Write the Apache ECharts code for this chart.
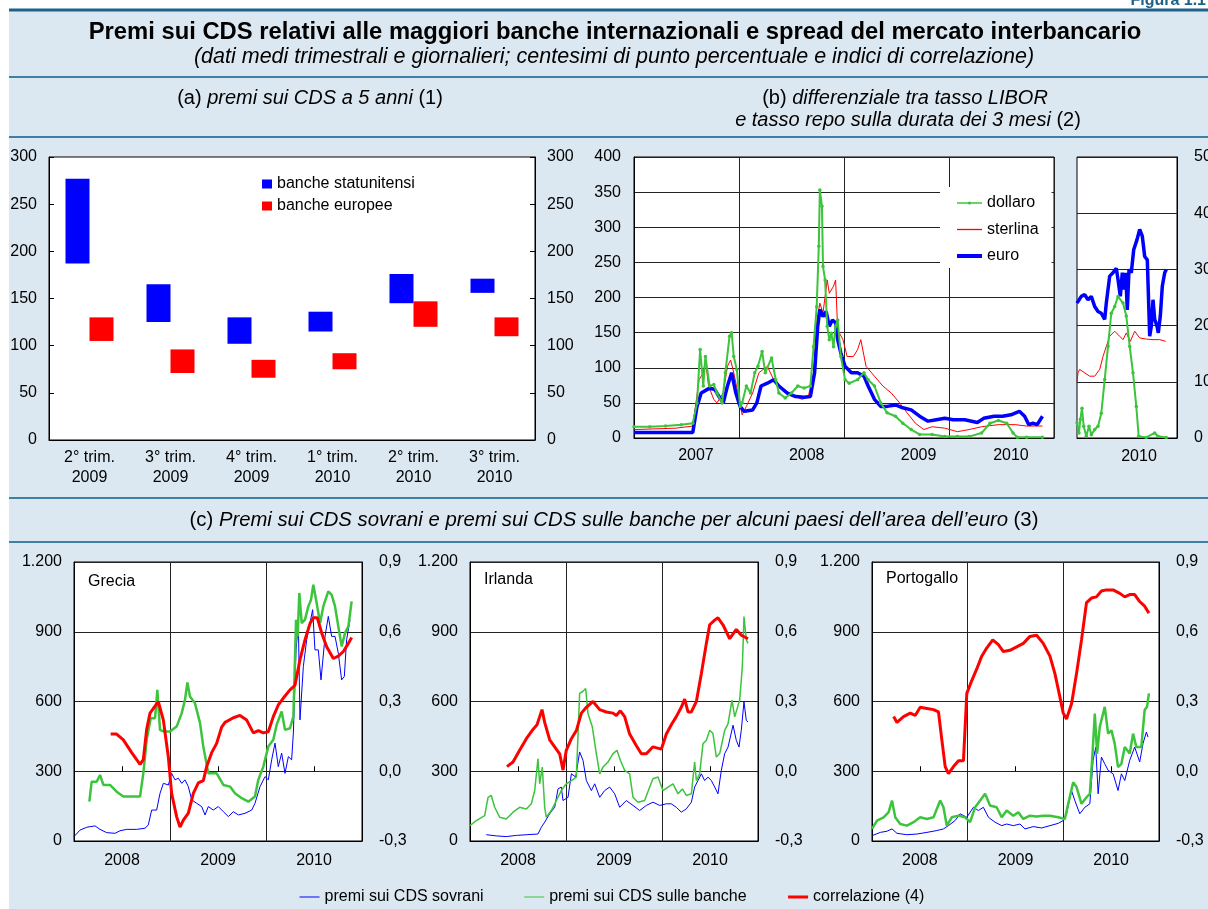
<!DOCTYPE html>
<html>
<head>
<meta charset="utf-8">
<script src="https://cdn.jsdelivr.net/npm/echarts@6/dist/echarts.min.js"></script>
<style>
html, body { margin: 0; padding: 0; background: #fff; }
#chart { width: 1208px; height: 909px; }
</style>
</head>
<body>
<div id="chart"></div>
<script>
// (a) premi sui CDS a 5 anni: intervallo min-max per trimestre
const trimestri = ['2° trim.\n2009', '3° trim.\n2009', '4° trim.\n2009', '1° trim.\n2010', '2° trim.\n2010', '3° trim.\n2010'];
const usaMin = [187, 125, 102, 115, 145, 156];
const usaMax = [277, 165, 130, 136, 176, 171];
const eurMin = [105, 71, 66, 75, 120, 110];
const eurMax = [130, 96, 85, 92, 147, 130];

// (b) differenziale LIBOR-repo, anni in frazione
const liborDollaro = [[2007.00,16],[2007.15,16],[2007.30,17],[2007.45,19],[2007.56,21],[2007.60,50],[2007.63,126],[2007.66,74],[2007.68,116],[2007.72,74],[2007.76,76],[2007.79,64],[2007.84,50],[2007.87,93],[2007.91,145],[2007.93,150],[2007.95,116],[2007.98,97],[2008.01,45],[2008.03,50],[2008.07,74],[2008.11,64],[2008.15,93],[2008.18,102],[2008.22,123],[2008.25,93],[2008.31,114],[2008.35,83],[2008.38,64],[2008.44,57],[2008.50,64],[2008.56,74],[2008.62,71],[2008.68,74],[2008.71,130],[2008.74,187],[2008.76,273],[2008.77,353],[2008.79,330],[2008.80,244],[2008.82,225],[2008.84,159],[2008.86,140],[2008.88,149],[2008.90,130],[2008.92,159],[2008.94,168],[2008.97,116],[2009.01,83],[2009.05,78],[2009.13,83],[2009.19,93],[2009.23,83],[2009.29,74],[2009.35,50],[2009.41,36],[2009.49,31],[2009.56,21],[2009.64,12],[2009.72,5],[2009.84,5],[2009.96,2],[2010.08,2],[2010.19,2],[2010.31,7],[2010.39,21],[2010.47,25],[2010.55,21],[2010.61,7],[2010.65,1],[2010.74,1],[2010.89,1]];
const liborSterlina = [[2007.00,12],[2007.20,13],[2007.40,14],[2007.56,17],[2007.62,83],[2007.66,93],[2007.68,111],[2007.71,74],[2007.76,55],[2007.79,50],[2007.85,64],[2007.89,102],[2007.92,111],[2007.95,93],[2007.99,64],[2008.03,33],[2008.07,45],[2008.13,64],[2008.19,93],[2008.27,102],[2008.33,83],[2008.38,74],[2008.46,66],[2008.54,59],[2008.60,55],[2008.66,59],[2008.71,93],[2008.74,164],[2008.77,192],[2008.80,178],[2008.84,225],[2008.86,206],[2008.90,216],[2008.92,225],[2008.94,154],[2008.99,140],[2009.03,116],[2009.09,116],[2009.13,126],[2009.16,140],[2009.21,102],[2009.29,88],[2009.37,74],[2009.45,64],[2009.53,50],[2009.60,36],[2009.68,21],[2009.76,12],[2009.84,16],[2009.96,14],[2010.08,9],[2010.19,12],[2010.31,16],[2010.47,19],[2010.63,19],[2010.74,17],[2010.89,17]];
const liborEuro = [[2007.00,8],[2007.30,8],[2007.56,8],[2007.60,45],[2007.64,64],[2007.72,71],[2007.77,69],[2007.81,59],[2007.85,50],[2007.89,74],[2007.93,93],[2007.97,64],[2008.01,45],[2008.05,38],[2008.13,40],[2008.17,50],[2008.21,74],[2008.27,78],[2008.33,83],[2008.38,74],[2008.46,64],[2008.54,59],[2008.62,58],[2008.68,59],[2008.72,93],[2008.75,159],[2008.77,183],[2008.80,173],[2008.83,180],[2008.86,159],[2008.89,168],[2008.92,164],[2008.94,140],[2008.97,121],[2009.01,102],[2009.07,93],[2009.13,93],[2009.19,88],[2009.23,74],[2009.29,55],[2009.35,45],[2009.41,45],[2009.49,47],[2009.56,43],[2009.64,40],[2009.72,31],[2009.80,24],[2009.88,26],[2009.96,28],[2010.04,26],[2010.15,26],[2010.27,22],[2010.33,28],[2010.43,31],[2010.51,31],[2010.59,33],[2010.67,38],[2010.72,31],[2010.76,19],[2010.80,21],[2010.84,19],[2010.89,31]];

// (b) riquadro 2010
const dettDollaro = [[2010.000,27],[2010.020,9],[2010.033,33],[2010.050,53],[2010.067,21],[2010.093,3],[2010.120,21],[2010.143,6],[2010.177,15],[2010.210,21],[2010.243,44],[2010.277,104],[2010.310,163],[2010.343,222],[2010.377,234],[2010.410,252],[2010.460,240],[2010.493,217],[2010.527,163],[2010.560,116],[2010.593,56],[2010.617,3],[2010.693,1],[2010.777,9],[2010.810,3],[2010.893,1]];
const dettSterlina = [[2010.000,100],[2010.010,116],[2010.027,122],[2010.077,116],[2010.127,110],[2010.177,110],[2010.227,122],[2010.260,145],[2010.293,163],[2010.327,181],[2010.377,190],[2010.427,181],[2010.460,175],[2010.493,187],[2010.533,172],[2010.577,190],[2010.627,178],[2010.693,176],[2010.760,175],[2010.827,175],[2010.887,172]];
const dettEuro = [[2010.000,240],[2010.043,252],[2010.077,255],[2010.110,246],[2010.143,252],[2010.177,234],[2010.210,225],[2010.243,222],[2010.277,211],[2010.293,240],[2010.327,288],[2010.360,294],[2010.393,302],[2010.410,282],[2010.433,252],[2010.453,294],[2010.470,264],[2010.487,294],[2010.503,228],[2010.520,300],[2010.543,294],[2010.567,335],[2010.600,353],[2010.627,371],[2010.653,359],[2010.677,323],[2010.703,317],[2010.727,181],[2010.743,199],[2010.760,246],[2010.777,211],[2010.800,199],[2010.813,187],[2010.833,217],[2010.853,270],[2010.877,294],[2010.893,300]];

// (c) Grecia
const grSovrani = [[2008.000,19],[2008.063,47],[2008.132,59],[2008.219,65],[2008.271,50],[2008.340,36],[2008.427,33],[2008.479,44],[2008.549,50],[2008.653,50],[2008.740,55],[2008.774,69],[2008.809,133],[2008.861,133],[2008.896,205],[2008.931,248],[2008.983,241],[2009.017,291],[2009.052,263],[2009.087,270],[2009.122,248],[2009.156,263],[2009.191,234],[2009.226,177],[2009.278,162],[2009.330,148],[2009.365,112],[2009.399,148],[2009.451,133],[2009.503,148],[2009.556,126],[2009.608,105],[2009.660,126],[2009.712,112],[2009.781,119],[2009.851,133],[2009.885,162],[2009.938,234],[2009.990,277],[2010.024,263],[2010.059,349],[2010.094,421],[2010.128,320],[2010.163,378],[2010.198,291],[2010.233,363],[2010.267,349],[2010.285,464],[2010.313,822],[2010.337,937],[2010.354,521],[2010.389,751],[2010.424,866],[2010.458,937],[2010.486,995],[2010.510,822],[2010.545,822],[2010.573,693],[2010.615,880],[2010.649,966],[2010.684,880],[2010.719,880],[2010.753,808],[2010.788,693],[2010.816,708],[2010.840,866],[2010.875,952]];
const grBanche = [[2008.160,169],[2008.184,255],[2008.236,255],[2008.271,284],[2008.306,241],[2008.375,241],[2008.444,212],[2008.514,191],[2008.601,191],[2008.688,191],[2008.722,291],[2008.757,435],[2008.799,528],[2008.844,528],[2008.868,650],[2008.896,478],[2008.931,471],[2009.000,471],[2009.069,492],[2009.122,550],[2009.156,607],[2009.181,682],[2009.208,622],[2009.260,593],[2009.313,507],[2009.347,406],[2009.399,291],[2009.486,291],[2009.556,241],[2009.625,234],[2009.677,205],[2009.747,184],[2009.816,169],[2009.885,191],[2009.920,263],[2009.972,320],[2010.024,406],[2010.076,435],[2010.111,500],[2010.163,557],[2010.198,478],[2010.250,485],[2010.285,535],[2010.313,952],[2010.330,880],[2010.347,1067],[2010.372,937],[2010.406,952],[2010.441,1009],[2010.469,1038],[2010.493,1102],[2010.528,1023],[2010.563,937],[2010.597,1009],[2010.649,1074],[2010.684,1059],[2010.719,1009],[2010.753,923],[2010.788,837],[2010.823,894],[2010.858,923],[2010.892,1031]];
const grCorrelazione = [[2008.382,0.16],[2008.444,0.16],[2008.514,0.135],[2008.601,0.08],[2008.688,0.03],[2008.722,0.05],[2008.757,0.18],[2008.792,0.25],[2008.844,0.28],[2008.878,0.30],[2008.931,0.22],[2008.983,0.06],[2009.017,-0.095],[2009.069,-0.195],[2009.104,-0.24],[2009.139,-0.21],[2009.191,-0.18],[2009.243,-0.095],[2009.295,-0.05],[2009.347,-0.04],[2009.382,0.02],[2009.434,0.08],[2009.486,0.12],[2009.538,0.19],[2009.573,0.21],[2009.660,0.23],[2009.729,0.24],[2009.799,0.22],[2009.868,0.165],[2009.920,0.175],[2009.972,0.165],[2010.024,0.17],[2010.076,0.235],[2010.128,0.285],[2010.181,0.315],[2010.250,0.35],[2010.302,0.37],[2010.354,0.48],[2010.406,0.565],[2010.458,0.635],[2010.493,0.66],[2010.535,0.66],[2010.580,0.595],[2010.632,0.535],[2010.701,0.485],[2010.753,0.495],[2010.806,0.515],[2010.858,0.55],[2010.892,0.575]];

// (c) Irlanda
const ieSovrani = [[2008.170,27],[2008.274,22],[2008.378,19],[2008.483,24],[2008.587,27],[2008.708,30],[2008.743,59],[2008.778,81],[2008.830,117],[2008.882,145],[2008.917,224],[2008.951,232],[2008.969,174],[2009.021,188],[2009.056,289],[2009.101,275],[2009.142,383],[2009.177,347],[2009.212,260],[2009.264,217],[2009.299,246],[2009.351,188],[2009.403,217],[2009.455,232],[2009.507,203],[2009.559,145],[2009.628,174],[2009.698,153],[2009.767,131],[2009.837,153],[2009.906,167],[2009.976,153],[2010.045,160],[2010.097,160],[2010.149,145],[2010.201,124],[2010.253,138],[2010.306,167],[2010.340,232],[2010.375,260],[2010.410,289],[2010.444,260],[2010.479,275],[2010.514,260],[2010.549,232],[2010.583,203],[2010.618,304],[2010.653,376],[2010.688,404],[2010.740,498],[2010.774,433],[2010.802,404],[2010.826,476],[2010.854,599],[2010.878,519],[2010.896,512]];
const ieBanche = [[2008.000,66],[2008.066,88],[2008.153,109],[2008.188,188],[2008.222,196],[2008.257,145],[2008.309,102],[2008.378,95],[2008.448,124],[2008.517,145],[2008.587,138],[2008.639,160],[2008.674,217],[2008.708,354],[2008.726,246],[2008.753,318],[2008.778,145],[2008.795,102],[2008.847,131],[2008.899,174],[2008.951,217],[2009.003,246],[2009.056,260],[2009.108,275],[2009.142,635],[2009.170,642],[2009.205,656],[2009.229,548],[2009.274,491],[2009.316,376],[2009.351,289],[2009.385,318],[2009.438,340],[2009.490,376],[2009.531,390],[2009.566,347],[2009.611,304],[2009.663,289],[2009.698,188],[2009.750,167],[2009.819,174],[2009.872,232],[2009.906,268],[2009.958,275],[2010.010,217],[2010.063,232],[2010.115,246],[2010.167,203],[2010.212,224],[2010.253,196],[2010.306,203],[2010.340,340],[2010.358,260],[2010.392,289],[2010.427,418],[2010.462,433],[2010.497,476],[2010.531,462],[2010.566,361],[2010.601,376],[2010.653,476],[2010.688,505],[2010.729,606],[2010.757,534],[2010.809,606],[2010.837,750],[2010.854,965],[2010.878,865],[2010.896,850]];
const ieCorrelazione = [[2008.385,0.02],[2008.448,0.04],[2008.517,0.09],[2008.587,0.14],[2008.656,0.18],[2008.698,0.20],[2008.726,0.235],[2008.750,0.265],[2008.778,0.21],[2008.830,0.135],[2008.882,0.105],[2008.934,0.075],[2008.969,0.005],[2009.003,0.09],[2009.056,0.14],[2009.108,0.175],[2009.160,0.25],[2009.212,0.275],[2009.281,0.30],[2009.351,0.265],[2009.420,0.255],[2009.490,0.25],[2009.524,0.24],[2009.566,0.26],[2009.611,0.235],[2009.663,0.16],[2009.733,0.11],[2009.785,0.075],[2009.837,0.075],[2009.906,0.105],[2009.993,0.095],[2010.045,0.16],[2010.097,0.20],[2010.149,0.235],[2010.201,0.275],[2010.236,0.31],[2010.271,0.255],[2010.306,0.255],[2010.358,0.30],[2010.410,0.42],[2010.462,0.55],[2010.497,0.63],[2010.549,0.65],[2010.583,0.66],[2010.635,0.63],[2010.705,0.57],[2010.774,0.61],[2010.826,0.585],[2010.896,0.57]];

// (c) Portogallo
const ptSovrani = [[2008.000,23],[2008.087,37],[2008.156,42],[2008.209,52],[2008.261,33],[2008.365,27],[2008.469,30],[2008.574,37],[2008.678,45],[2008.747,52],[2008.799,66],[2008.869,88],[2008.921,117],[2008.991,102],[2009.060,145],[2009.112,131],[2009.164,145],[2009.217,102],[2009.286,81],[2009.356,66],[2009.408,73],[2009.477,66],[2009.547,73],[2009.599,52],[2009.686,62],[2009.773,56],[2009.860,66],[2009.947,76],[2010.000,88],[2010.034,117],[2010.085,217],[2010.120,174],[2010.172,117],[2010.225,145],[2010.277,160],[2010.311,347],[2010.339,404],[2010.364,203],[2010.398,361],[2010.433,332],[2010.468,304],[2010.520,289],[2010.572,217],[2010.607,289],[2010.642,260],[2010.694,347],[2010.746,404],[2010.798,340],[2010.833,419],[2010.868,469],[2010.885,447]];
const ptBanche = [[2008.000,52],[2008.052,88],[2008.122,102],[2008.174,124],[2008.209,174],[2008.243,102],[2008.295,73],[2008.365,66],[2008.434,81],[2008.504,102],[2008.574,95],[2008.643,102],[2008.713,174],[2008.747,145],[2008.782,66],[2008.834,102],[2008.904,109],[2008.973,102],[2009.025,81],[2009.078,145],[2009.130,174],[2009.182,203],[2009.234,153],[2009.303,145],[2009.356,102],[2009.408,131],[2009.477,109],[2009.529,124],[2009.582,95],[2009.651,109],[2009.721,105],[2009.790,109],[2009.860,109],[2009.946,102],[2010.016,95],[2010.051,160],[2010.103,253],[2010.138,232],[2010.190,160],[2010.242,188],[2010.277,203],[2010.305,376],[2010.329,548],[2010.353,376],[2010.381,491],[2010.433,577],[2010.468,462],[2010.503,476],[2010.537,419],[2010.572,318],[2010.607,332],[2010.642,404],[2010.694,376],[2010.729,462],[2010.763,404],[2010.815,404],[2010.850,563],[2010.875,577],[2010.895,635]];
const ptCorrelazione = [[2008.226,0.235],[2008.261,0.21],[2008.330,0.235],[2008.400,0.25],[2008.452,0.24],[2008.504,0.275],[2008.574,0.27],[2008.643,0.265],[2008.695,0.255],[2008.730,0.135],[2008.765,0.02],[2008.799,-0.01],[2008.852,0.02],[2008.904,0.045],[2008.956,0.045],[2008.991,0.335],[2009.043,0.39],[2009.095,0.44],[2009.147,0.495],[2009.199,0.53],[2009.262,0.565],[2009.321,0.545],[2009.373,0.515],[2009.442,0.52],[2009.512,0.535],[2009.582,0.55],[2009.651,0.58],[2009.721,0.585],[2009.790,0.55],[2009.860,0.495],[2009.912,0.42],[2009.964,0.32],[2009.999,0.25],[2010.033,0.225],[2010.086,0.29],[2010.138,0.42],[2010.190,0.565],[2010.242,0.725],[2010.294,0.745],[2010.346,0.75],[2010.398,0.775],[2010.450,0.78],[2010.520,0.78],[2010.590,0.765],[2010.642,0.75],[2010.694,0.76],[2010.746,0.76],[2010.798,0.73],[2010.850,0.71],[2010.895,0.68]];

const etichetteAnniB = [2007.59, 2008.645, 2009.71, 2010.59];
const etichettaRiquadro = [2010.62];
const etichetteAnniC = [2008.5, 2009.5, 2010.5];

const FONT = "'Liberation Sans', Arial, Helvetica, sans-serif";
const BLU = '#0000ff', ROSSO = '#ff0000', VERDE = '#3cc43c';
const FONDO = '#dce8f1', FILETTO = '#3f7fa5';
const lbl = { color: '#000', fontSize: 16, fontFamily: FONT };
const nero = { lineStyle: { color: '#000', width: 1 } };
const griglia = { show: true, lineStyle: { color: '#222', width: 1 } };

function migliaia(v) { return String(v).replace(/\B(?=(\d{3})+(?!\d))/g, '.'); }
function virgola(v) { return (Math.round(v * 10) / 10).toFixed(1).replace('.', ','); }
function anno(v) { return String(Math.floor(v)); }

function boxGrid(left, top, width, height) {
    return { left: left, top: top, width: width, height: height, show: true,
             backgroundColor: '#fff', borderColor: '#000', borderWidth: 1,
             containLabel: false, outerBoundsMode: 'none' };
}

const chart = echarts.init(document.getElementById('chart'));

let grids = [
    boxGrid(49, 157, 486, 283),
    boxGrid(634, 157, 420, 281),
    boxGrid(1077, 157, 100, 281)
];
let xAxes = [
    { gridIndex: 0, type: 'category', data: trimestri, axisLine: nero,
      axisTick: { inside: true, length: 5, lineStyle: { color: '#000' } },
      axisLabel: Object.assign({}, lbl, { margin: 8, lineHeight: 20, interval: 0 }) },
    { gridIndex: 1, type: 'value', min: 2007, max: 2011, interval: 1, axisLine: nero,
      axisTick: { show: false }, splitLine: griglia,
      axisLabel: Object.assign({}, lbl, { margin: 10, customValues: etichetteAnniB, formatter: anno }) },
    { gridIndex: 2, type: 'value', min: 2010, max: 2011, axisLine: nero,
      axisTick: { show: false }, splitLine: { show: false },
      axisLabel: Object.assign({}, lbl, { margin: 11, customValues: etichettaRiquadro, formatter: anno }) }
];
let yAxes = [
    { gridIndex: 0, type: 'value', min: 0, max: 300, interval: 50, axisLine: Object.assign({ show: true }, nero),
      axisTick: { show: true, inside: true, length: 5, lineStyle: { color: '#000' } }, splitLine: { show: false },
      axisLabel: Object.assign({}, lbl, { margin: 12 }) },
    { gridIndex: 0, type: 'value', position: 'right', min: 0, max: 300, interval: 50, axisLine: Object.assign({ show: true }, nero),
      axisTick: { show: true, inside: true, length: 5, lineStyle: { color: '#000' } }, splitLine: { show: false },
      axisLabel: Object.assign({}, lbl, { margin: 12 }) },
    { gridIndex: 1, type: 'value', min: 0, max: 400, interval: 50, axisLine: Object.assign({ show: true }, nero),
      axisTick: { show: false }, splitLine: griglia,
      axisLabel: Object.assign({}, lbl, { margin: 13 }) },
    { gridIndex: 2, type: 'value', position: 'right', min: 0, max: 500, interval: 100, axisLine: Object.assign({ show: true }, nero),
      axisTick: { show: false }, splitLine: griglia,
      axisLabel: Object.assign({}, lbl, { margin: 17 }) }
];

function rangeBars(name, stack, low, high, color) {
    return [
        { type: 'bar', name: stack + '-base', stack: stack, xAxisIndex: 0, yAxisIndex: 0,
          data: low, itemStyle: { color: 'transparent' }, barWidth: 24, barGap: '0%', silent: true },
        { type: 'bar', name: name, stack: stack, xAxisIndex: 0, yAxisIndex: 0,
          data: high.map((h, i) => h - low[i]), itemStyle: { color: color }, barWidth: 24, barGap: '0%' }
    ];
}

function linea(name, data, xi, yi, color, width, extra) {
    return Object.assign({ type: 'line', name: name, data: data, xAxisIndex: xi, yAxisIndex: yi,
        symbol: 'none', showSymbol: false, lineStyle: { color: color, width: width },
        itemStyle: { color: color }, emphasis: { disabled: true } }, extra || {});
}

const puntini = { symbol: 'circle', symbolSize: 3.5, showSymbol: true };

let series = [].concat(
    rangeBars('banche statunitensi', 'usa', usaMin, usaMax, BLU),
    rangeBars('banche europee', 'eur', eurMin, eurMax, ROSSO),
    [
        linea('sterlina', liborSterlina, 1, 2, ROSSO, 1),
        linea('euro', liborEuro, 1, 2, BLU, 3.5),
        linea('dollaro', liborDollaro, 1, 2, VERDE, 2, puntini),
        linea('sterlina', dettSterlina, 2, 3, ROSSO, 1),
        linea('euro', dettEuro, 2, 3, BLU, 3.5),
        linea('dollaro', dettDollaro, 2, 3, VERDE, 2, puntini)
    ]
);

const paesi = [
    { nome: 'Grecia', left: 74, width: 288, ly: 582, sov: grSovrani, ban: grBanche, cor: grCorrelazione, banW: 2.5 },
    { nome: 'Irlanda', left: 470, width: 288, ly: 580, sov: ieSovrani, ban: ieBanche, cor: ieCorrelazione, banW: 1.5 },
    { nome: 'Portogallo', left: 872, width: 287, ly: 579, sov: ptSovrani, ban: ptBanche, cor: ptCorrelazione, banW: 2.5 }
];

paesi.forEach(function (p) {
    const gi = grids.length;
    grids.push(boxGrid(p.left, 562, p.width, 279));
    const xi = xAxes.length;
    xAxes.push({ gridIndex: gi, type: 'value', min: 2008, max: 2011, interval: 1, position: 'bottom',
        axisLine: nero, axisTick: { show: false }, splitLine: griglia,
        axisLabel: Object.assign({}, lbl, { margin: 12, customValues: etichetteAnniC, formatter: anno }) });
    xAxes.push({ gridIndex: gi, type: 'value', min: 2008, max: 2011, position: 'bottom',
        axisLine: { show: false }, splitLine: { show: false }, axisLabel: { show: false },
        axisTick: { show: true, inside: true, length: 5, customValues: etichetteAnniC, lineStyle: { color: '#000' } } });
    const yi = yAxes.length;
    yAxes.push({ gridIndex: gi, type: 'value', min: 0, max: 1200, interval: 300,
        axisLine: Object.assign({ show: true }, nero), axisTick: { show: false }, splitLine: griglia,
        axisLabel: Object.assign({}, lbl, { margin: 12, formatter: migliaia }) });
    yAxes.push({ gridIndex: gi, type: 'value', position: 'right', min: -0.3, max: 0.9, interval: 0.3,
        axisLine: Object.assign({ show: true }, nero), axisTick: { show: false }, splitLine: { show: false },
        axisLabel: Object.assign({}, lbl, { margin: 17, formatter: virgola }) });
    series.push(linea('premi sui CDS sovrani', p.sov, xi, yi, BLU, 1));
    series.push(linea('premi sui CDS sulle banche', p.ban, xi, yi, VERDE, p.banW));
    series.push(linea('correlazione (4)', p.cor, xi, yi + 1, ROSSO, 3));
});

function testo(x, y, text, extra) {
    return { type: 'text', x: x, y: y, silent: true, z: 10,
        style: Object.assign({ text: text, fill: '#000', fontSize: 20, fontFamily: FONT,
            align: 'center', verticalAlign: 'middle' }, extra || {}) };
}
function filetto(y, w, c) {
    return { type: 'line', silent: true, z: -5, shape: { x1: 9, y1: y, x2: 1208, y2: y },
        style: { stroke: c || FILETTO, lineWidth: w || 2 } };
}
function corsivo(size) {
    return { i: { fontStyle: 'italic', fontSize: size, fontFamily: FONT, fill: '#000' } };
}

let grafica = [
    { type: 'rect', silent: true, z: -10, shape: { x: 9, y: 10, width: 1199, height: 899 }, style: { fill: FONDO } },
    filetto(10, 3, '#1f6289'), filetto(77), filetto(137), filetto(498), filetto(542),
    testo(1206, 1, 'Figura 1.1', { align: 'right', fontWeight: 'bold', fontSize: 16, fill: '#1f6289' }),
    testo(615, 32, 'Premi sui CDS relativi alle maggiori banche internazionali e spread del mercato interbancario',
        { fontWeight: 'bold', fontSize: 23.8 }),
    testo(614, 57, '(dati medi trimestrali e giornalieri; centesimi di punto percentuale e indici di correlazione)',
        { fontStyle: 'italic', fontSize: 21.5 }),
    testo(310, 98, '(a) {i|premi sui CDS a 5 anni} (1)', { rich: corsivo(20) }),
    testo(905, 98, '(b) {i|differenziale tra tasso LIBOR}', { rich: corsivo(20) }),
    testo(908, 120, '{i|e tasso repo sulla durata dei 3 mesi} (2)', { rich: corsivo(20) }),
    testo(614, 520, "(c) {i|Premi sui CDS sovrani e premi sui CDS sulle banche per alcuni paesi dell’area dell’euro} (3)",
        { fontSize: 20.3, rich: corsivo(20.3) })
];
paesi.forEach(function (p) {
    grafica.push(testo(p.left + 14, p.ly, p.nome, { align: 'left', fontSize: 16 }));
});

const legTesto = { color: '#000', fontSize: 16, fontFamily: FONT, lineHeight: 16 };
const senzaPunto = { opacity: 0 };

chart.setOption({
    animation: false,
    textStyle: { fontFamily: FONT },
    graphic: grafica,
    grid: grids,
    xAxis: xAxes,
    yAxis: yAxes,
    legend: [
        { left: 262, top: 176, orient: 'vertical', padding: 0, itemGap: 6, icon: 'rect',
          itemWidth: 10, itemHeight: 9, textStyle: legTesto, selectedMode: false,
          data: ['banche statunitensi', 'banche europee'] },
        { left: 940, top: 187, orient: 'vertical', padding: [8, 13, 4, 15], itemGap: 10.5,
          itemWidth: 25, itemHeight: 4, textStyle: legTesto, backgroundColor: '#fff', selectedMode: false,
          data: [
              { name: 'dollaro', lineStyle: { width: 1.5, color: VERDE } },
              { name: 'sterlina', lineStyle: { width: 1.3, color: ROSSO, opacity: 1 }, itemStyle: senzaPunto },
              { name: 'euro', lineStyle: { width: 4, color: BLU }, itemStyle: senzaPunto }
          ] },
        { left: 299, top: 889, orient: 'horizontal', padding: 0, itemGap: 40,
          itemWidth: 20, itemHeight: 4, textStyle: legTesto, selectedMode: false,
          data: [
              { name: 'premi sui CDS sovrani', lineStyle: { width: 1, color: BLU }, itemStyle: senzaPunto },
              { name: 'premi sui CDS sulle banche', lineStyle: { width: 1, color: VERDE }, itemStyle: senzaPunto },
              { name: 'correlazione (4)', lineStyle: { width: 3, color: ROSSO }, itemStyle: senzaPunto }
          ] }
    ],
    series: series
});
</script>
</body>
</html>
